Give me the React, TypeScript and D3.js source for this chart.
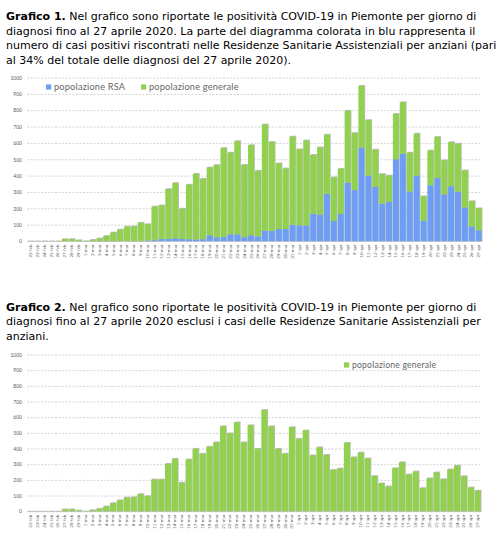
import * as d3 from 'd3'

const days = [
  '22-feb', '23-feb', '24-feb', '25-feb', '26-feb', '27-feb', '28-feb', '29-feb',
  '1-mar', '2-mar', '3-mar', '4-mar', '5-mar', '6-mar', '7-mar', '8-mar', '9-mar', '10-mar',
  '11-mar', '12-mar', '13-mar', '14-mar', '15-mar', '16-mar', '17-mar', '18-mar', '19-mar', '20-mar',
  '21-mar', '22-mar', '23-mar', '24-mar', '25-mar', '26-mar', '27-mar', '28-mar', '29-mar', '30-mar', '31-mar',
  '1-apr', '2-apr', '3-apr', '4-apr', '5-apr', '6-apr', '7-apr', '8-apr', '9-apr', '10-apr',
  '11-apr', '12-apr', '13-apr', '14-apr', '15-apr', '16-apr', '17-apr', '18-apr', '19-apr', '20-apr',
  '21-apr', '22-apr', '23-apr', '24-apr', '25-apr', '26-apr', '27-apr',
]

// casi nelle RSA
const rsa = [
  0, 0, 0, 0, 0, 0, 0, 0,
  0, 0, 0, 0, 0, 0, 0, 0, 2, 6,
  8, 15, 15, 20, 15, 14, 12, 14, 38, 25,
  27, 44, 44, 26, 38, 31, 66, 64, 76, 76, 102,
  98, 99, 170, 165, 291, 126, 169, 360, 316, 574,
  403, 334, 232, 242, 503, 536, 306, 403, 126, 344,
  389, 289, 338, 304, 208, 92, 69,
]

// popolazione generale (senza RSA)
const generale = [
  1, 1, 1, 1, 1, 15, 15, 8,
  2, 10, 19, 34, 55, 73, 91, 93, 113, 100,
  206, 206, 306, 338, 186, 334, 402, 370, 415, 443,
  545, 500, 570, 443, 552, 402, 650, 545, 402, 371, 540,
  466, 519, 360, 411, 363, 267, 276, 440, 348, 378,
  340, 228, 181, 162, 278, 316, 238, 257, 151, 213,
  251, 208, 270, 294, 227, 155, 134,
]

const yTicks = [0, 100, 200, 300, 400, 500, 600, 700, 800, 900, 1000]

const heading1 = [
  ['Grafico 1.', ' Nel grafico sono riportate le positività COVID-19 in Piemonte per giorno di'],
  ['', 'diagnosi fino al 27 aprile 2020. La parte del diagramma colorata in blu rappresenta il'],
  ['', 'numero di casi positivi riscontrati nelle Residenze Sanitarie Assistenziali per anziani (pari'],
  ['', 'al 34% del totale delle diagnosi del 27 aprile 2020).'],
]
const heading2 = [
  ['Grafico 2.', ' Nel grafico sono riportate le positività COVID-19 in Piemonte per giorno di'],
  ['', 'diagnosi fino al 27 aprile 2020 esclusi i casi delle Residenze Sanitarie Assistenziali per'],
  ['', 'anziani.'],
]

const BLUE = '#6d9ef4'
const GREEN = '#92d050'
const SHADOW = '#bdbdbd'
const AXIS_TXT = '#5a5a5a'
const CHART_FONT = 'Lato, "DejaVu Sans", sans-serif'

function Heading({ lines, y }: { lines: string[][]; y: number }) {
  return (
    <g fontFamily='"DejaVu Sans", sans-serif' fontSize={11} fill="#000">
      {lines.map((l, i) => (
        <text key={i} x={6} y={y + i * 14.5}>
          {l[0] && <tspan fontWeight="bold">{l[0]}</tspan>}
          <tspan>{l[1]}</tspan>
        </text>
      ))}
    </g>
  )
}

interface ChartProps {
  y0: number
  y1000: number
  x0: number
  x1: number
  series: { name: string; values: number[]; color: string }[]
  legend: { x: number; y: number }[]
  legendSize: number
}

function Chart({ y0, y1000, x0, x1, series, legend, legendSize }: ChartProps) {
  const x = d3.scaleBand().domain(days).range([x0, x1]).paddingInner(0.13).paddingOuter(0.05)
  const y = d3.scaleLinear().domain([0, 1000]).range([y0, y1000])
  const stacked = d3
    .stack<number>()
    .keys(series.map((_, i) => String(i)))
    .value((d, k) => series[+k].values[d])(days.map((_, i) => i))
  const totals = days.map((_, i) => d3.sum(series, s => s.values[i]))

  return (
    <g>
      {yTicks.map(t => (
        <g key={t}>
          {t > 0 && (
            <line x1={x0} x2={x1} y1={y(t)} y2={y(t)} stroke="#c8c8c8" strokeWidth={0.8} strokeDasharray="2,1.5" />
          )}
          <text x={22} y={y(t)} dy="0.35em" textAnchor="end" fontSize={5} fontFamily={CHART_FONT} fill={AXIS_TXT}>
            {t}
          </text>
        </g>
      ))}
      {/* ombra delle barre */}
      {days.map((d, i) => (
        <rect
          key={'s' + d}
          x={(x(d) || 0) + 0.8}
          y={y(totals[i]) - 0.8}
          width={x.bandwidth()}
          height={Math.max(0, y0 - y(totals[i]) + 0.8)}
          fill={SHADOW}
        />
      ))}
      {stacked.map((layer, k) =>
        layer.map((seg, i) => (
          <rect
            key={k + '-' + i}
            x={x(days[i]) || 0}
            y={y(seg[1])}
            width={x.bandwidth()}
            height={Math.max(0, y(seg[0]) - y(seg[1]))}
            fill={series[k].color}
          />
        ))
      )}
      <line x1={x0} x2={x1} y1={y0} y2={y0} stroke="#bfbfbf" strokeWidth={0.8} />
      {days.map(d => (
        <text
          key={'l' + d}
          transform={`translate(${(x(d) || 0) + x.bandwidth() / 2},${y0 + 3}) rotate(-90)`}
          textAnchor="end"
          dy="0.35em"
          fontSize={4.4}
          fontFamily={CHART_FONT}
          fill={AXIS_TXT}
        >
          {d}
        </text>
      ))}
      {series.map((s, i) => (
        <g key={s.name} transform={`translate(${legend[i].x},${legend[i].y})`}>
          <rect x={0} y={-2.6} width={5.2} height={5.2} fill={s.color} />
          <text x={8} y={0} dy="0.35em" fontSize={legendSize} fontFamily={CHART_FONT} fill="#666" letterSpacing={0.2}>
            {s.name}
          </text>
        </g>
      ))}
    </g>
  )
}

export default function App() {
  return (
    <svg width={502} height={544} style={{ position: 'absolute', left: 0, top: 0, background: '#fff' }}>
      <Heading lines={heading1} y={20} />
      <Chart
        y0={241.5}
        y1000={78}
        x0={27}
        x1={482}
        series={[
          { name: 'popolazione RSA', values: rsa, color: BLUE },
          { name: 'popolazione generale', values: generale, color: GREEN },
        ]}
        legend={[
          { x: 46, y: 87 },
          { x: 141, y: 87 },
        ]}
        legendSize={9.2}
      />
      <Heading lines={heading2} y={310.5} />
      <Chart
        y0={511.7}
        y1000={355}
        x0={27}
        x1={481}
        series={[{ name: 'popolazione generale', values: generale, color: GREEN }]}
        legend={[{ x: 344, y: 365 }]}
        legendSize={8.6}
      />
    </svg>
  )
}
